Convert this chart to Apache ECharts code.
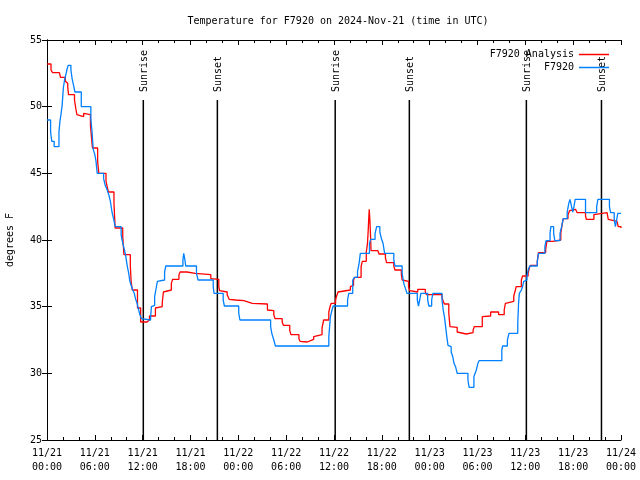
<!DOCTYPE html>
<html>
<head>
<meta charset="utf-8">
<script src="https://cdn.jsdelivr.net/npm/echarts@6/dist/echarts.min.js"></script>
<style>html,body{margin:0;padding:0;background:#fff}#c{width:640px;height:480px}</style>
</head>
<body>
<div id="c"></div>
<script>
// Hours after 2024-11-21 00:00 UTC
const obsHours = [0,0.45,0.6,0.9,1.5,1.62,1.75,1.9,2.05,2.2,2.4,2.55,2.68,3.0,3.15,3.33,3.5,4.3,5.5,5.65,5.8,6.0,6.15,6.3,7.1,7.3,7.55,7.75,7.95,8.15,8.35,8.55,9.3,9.45,9.65,9.85,10.05,10.25,10.4,10.55,10.75,10.95,11.1,11.3,11.5,11.65,11.85,12.0,13.0,13.1,13.3,13.5,13.65,13.85,14.0,14.75,14.9,17.05,17.15,17.3,17.4,18.75,18.95,20.85,20.95,22.1,22.25,24.05,24.2,28.05,28.2,28.45,28.65,35.35,35.45,35.55,35.75,35.9,37.7,37.85,38.35,38.55,38.95,39.15,39.3,40.45,40.6,41.15,41.35,41.75,41.95,42.15,42.35,43.5,43.65,44.55,44.75,44.9,45.0,45.15,46.45,46.6,46.75,46.9,47.75,47.9,48.25,48.4,49.55,49.7,49.85,50.0,50.15,50.3,50.5,50.7,50.9,51.05,51.25,51.45,52.8,52.95,53.55,53.7,53.85,54.05,54.2,57.05,57.15,57.75,57.95,59.05,59.15,59.25,59.5,59.65,59.8,60.05,60.2,60.35,60.55,61.5,61.65,62.45,62.6,63.1,63.2,63.55,63.7,64.35,64.55,64.75,65.25,65.45,65.6,65.8,65.95,66.1,66.25,67.55,68.95,69.1,70.55,70.7,71.15,71.3,71.45,71.6,72];
const obsTemps = [49,48.1,47.4,47.0,48.1,48.9,49.4,50.1,51.4,52.0,52.5,52.9,53.1,52.75,52.1,51.6,51.1,50.0,49.1,48.1,46.8,46.4,45.9,45.0,44.6,44.1,43.75,43.4,42.9,42.1,41.6,41.0,40.4,39.9,39.4,38.9,38.1,37.5,36.9,36.6,36.25,36.0,35.6,35.25,34.75,34.4,34.1,34.0,34.25,35.0,35.1,35.75,36.25,36.9,37.0,37.6,38.05,38.5,39.0,38.5,38.05,37.5,37.0,36.5,36.0,35.5,35.05,34.5,34.0,33.5,33.0,32.5,32.05,32.75,33.5,34.25,34.75,35.05,35.5,36.0,37.0,37.2,37.65,38.25,39.0,39.75,40.05,40.5,41.0,40.6,40.1,39.75,39.0,38.5,38.05,37.5,36.75,36.6,36.3,36.0,35.5,35.05,35.5,36.0,35.5,35.05,35.5,36.0,35.5,34.75,34.25,33.5,32.75,32.1,32.0,31.6,31.25,30.75,30.5,30.0,29.5,28.95,29.75,30.0,30.25,30.75,30.95,31.75,32.05,32.5,33.0,33.75,35.25,36.0,36.25,36.5,36.9,37.0,37.25,37.75,38.05,38.4,39.0,39.5,39.95,40.5,41.0,40.5,39.95,40.5,41.0,41.6,42.1,42.75,43.05,42.5,42.1,42.5,43.05,42.05,42.5,43.05,42.5,42.05,41.5,41.0,41.5,42.0,42.0];

const anaHours = [0,0.5,0.7,1.55,1.7,2.3,2.45,2.6,2.7,3.45,3.6,3.75,3.9,4.6,4.8,5.45,5.55,5.7,6.35,6.5,7.4,7.55,7.7,8.4,8.55,9.5,9.65,10.45,10.55,10.7,11.35,11.75,12.55,12.85,13.6,13.7,14.45,14.6,14.7,15.6,15.75,16.55,16.7,17.55,18.6,20.55,20.7,21.55,21.65,21.75,22.6,22.85,23.0,23.65,24.7,24.85,25.75,27.65,27.75,28.45,28.6,29.5,29.65,30.45,30.6,31.6,31.75,31.9,32.65,32.8,33.45,33.6,34.5,34.7,35.35,35.5,35.65,36.2,36.3,36.5,36.65,38.05,38.3,38.45,38.6,39.4,39.55,40.05,40.2,40.28,40.35,40.42,40.5,40.57,40.65,41.5,41.65,42.45,42.6,43.5,43.65,44.45,44.55,44.65,45.35,45.5,45.65,46.5,47.45,47.6,49.55,49.7,49.85,50.4,50.55,50.65,51.45,51.6,52.6,53.45,53.6,54.6,54.75,55.65,56.65,57.35,57.5,57.65,58.55,58.75,58.85,59.5,59.65,60.35,60.5,60.65,61.5,61.65,62.55,62.7,63.45,64.45,64.6,64.75,65.35,65.55,65.75,66.3,66.5,67.55,67.65,68.6,68.75,70.25,70.4,70.65,71.5,71.65,72];
const anaTemps = [53.2,52.75,52.55,52.4,52.2,51.9,51.75,51.5,50.9,50.5,49.9,49.4,49.25,49.5,49.4,48.6,47.9,46.9,45.9,45.0,44.4,44.0,43.6,42.75,40.9,40.25,38.9,38.1,36.9,36.25,34.9,33.85,34.0,34.3,34.9,35.0,35.25,36.1,36.25,36.75,37.05,37.4,37.6,37.5,37.4,37.1,37.05,36.5,36.2,36.1,35.9,35.55,35.5,35.45,35.3,35.25,35.2,34.75,34.7,34.4,34.1,33.85,33.6,33.2,32.9,32.6,32.4,32.35,32.5,32.55,32.75,32.9,33.4,34.0,34.6,35.0,35.25,35.5,35.75,36.1,36.25,36.5,36.6,37.0,37.2,38.0,38.4,39.1,39.75,40.6,41.5,42.3,41.5,40.5,39.2,39.05,38.95,38.65,38.3,38.05,37.75,37.4,37.0,36.9,36.5,36.2,36.1,36.3,36.1,35.9,35.65,35.4,35.2,34.5,33.5,33.45,33.1,32.95,33.05,33.25,33.5,34.25,34.3,34.6,34.4,34.75,35.25,35.4,35.8,36.25,36.5,37.0,37.3,37.5,37.9,38.1,38.4,39.05,39.3,39.9,40.0,40.5,41.1,41.6,41.9,42.2,42.3,42.2,42.05,41.8,41.55,41.9,42.05,41.9,41.55,41.4,41.3,41.0,40.9];

const sunHours = [12.08, 21.37, 36.15, 45.45, 60.13, 69.55];
const sunLabels = ['Sunrise', 'Sunset', 'Sunrise', 'Sunset', 'Sunrise', 'Sunset'];

const xTickLabels = ['11/21\n00:00','11/21\n06:00','11/21\n12:00','11/21\n18:00','11/22\n00:00','11/22\n06:00','11/22\n12:00','11/22\n18:00','11/23\n00:00','11/23\n06:00','11/23\n12:00','11/23\n18:00','11/24\n00:00'];

const FONT = '"DejaVu Sans Mono", monospace';
const chart = echarts.init(document.getElementById('c'), null, {renderer: 'canvas'});

const axisCommon = {
  axisLine: {show: true, lineStyle: {color: '#000', width: 1}},
  axisTick: {show: true, inside: true, length: 5, lineStyle: {color: '#000'}},
  splitLine: {show: false}
};

chart.setOption({
  animation: false,
  backgroundColor: '#fff',
  title: {
    text: 'Temperature for F7920 on 2024-Nov-21 (time in UTC)',
    left: 333, top: 11, textAlign: 'center',
    textStyle: {fontFamily: FONT, fontSize: 10, fontWeight: 'normal', color: '#000'}
  },
  legend: {
    orient: 'vertical', right: 26, top: 43, align: 'right',
    icon: 'rect', itemWidth: 30, itemHeight: 1.5, itemGap: 0,
    data: ['F7920 Analysis', 'F7920'],
    textStyle: {fontFamily: FONT, fontSize: 10, lineHeight: 13, color: '#000'}
  },
  grid: {left: 47, right: 19, top: 40, bottom: 40, containLabel: false, outerBoundsMode: 'none'},
  xAxis: [
    Object.assign({}, axisCommon, {
      type: 'value', min: 0, max: 72, interval: 6, position: 'bottom',
      minorTick: {show: true, splitNumber: 3, length: 3, lineStyle: {color: '#000'}},
      axisLabel: {
        margin: 6, fontFamily: FONT, fontSize: 10, lineHeight: 14, color: '#000',
        formatter: v => xTickLabels[Math.round(v / 6)]
      }
    }),
    Object.assign({}, axisCommon, {
      type: 'value', min: 0, max: 72, interval: 6, position: 'top',
      minorTick: {show: true, splitNumber: 3, length: 3, lineStyle: {color: '#000'}},
      axisLabel: {show: false}
    })
  ],
  yAxis: [
    Object.assign({}, axisCommon, {
      type: 'value', min: 25, max: 55, interval: 5, position: 'left',
      name: 'degrees F', nameLocation: 'middle', nameGap: 32, nameRotate: 90,
      nameTextStyle: {fontFamily: FONT, fontSize: 10, color: '#000'},
      axisLabel: {margin: 5, fontFamily: FONT, fontSize: 10, color: '#000'}
    }),
    Object.assign({}, axisCommon, {
      type: 'value', min: 25, max: 55, interval: 5, position: 'right',
      axisLabel: {show: false}
    })
  ],
  series: [
    {
      type: 'custom', name: 'sun', z: 1, silent: true,
      data: sunHours.map(h => [h, 25]),
      encode: {x: 0, y: 1},
      renderItem: function (params, api) {
        const x = api.value(0);
        const p0 = api.coord([x, 25]);
        const p1 = api.coord([x, 50.5]);
        return {
          type: 'group',
          children: [
            {type: 'line', shape: {x1: p0[0], y1: p0[1], x2: p1[0], y2: p1[1]},
             style: {stroke: '#000', lineWidth: 1.5}},
            {type: 'text', x: p1[0] + 1, y: p1[1] - 8, rotation: Math.PI / 2,
             style: {text: sunLabels[params.dataIndex], fill: '#000', font: '10px ' + FONT,
                     align: 'left', verticalAlign: 'middle'}}
          ]
        };
      }
    },
    {
      name: 'F7920 Analysis', type: 'line', step: 'end', symbol: 'none', z: 3,
      data: anaHours.map((h, i) => [h, anaTemps[i]]),
      lineStyle: {color: '#ff0000', width: 1.3}, itemStyle: {color: '#ff0000'}
    },
    {
      name: 'F7920', type: 'line', step: 'end', symbol: 'none', z: 4,
      data: obsHours.map((h, i) => [h, obsTemps[i]]),
      lineStyle: {color: '#0080ff', width: 1.3}, itemStyle: {color: '#0080ff'}
    }
  ]
});
</script>
</body>
</html>
